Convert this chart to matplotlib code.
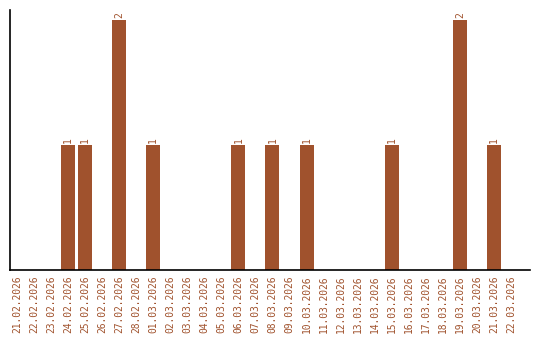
import matplotlib
matplotlib.use("Agg")
import matplotlib.pyplot as plt

dates = [
    "21.02.2026", "22.02.2026", "23.02.2026", "24.02.2026", "25.02.2026",
    "26.02.2026", "27.02.2026", "28.02.2026", "01.03.2026", "02.03.2026",
    "03.03.2026", "04.03.2026", "05.03.2026", "06.03.2026", "07.03.2026",
    "08.03.2026", "09.03.2026", "10.03.2026", "11.03.2026", "12.03.2026",
    "13.03.2026", "14.03.2026", "15.03.2026", "16.03.2026", "17.03.2026",
    "18.03.2026", "19.03.2026", "20.03.2026", "21.03.2026", "22.03.2026",
]
counts = [0, 0, 0, 1, 1, 0, 2, 0, 1, 0,
          0, 0, 0, 1, 0, 1, 0, 1, 0, 0,
          0, 0, 1, 0, 0, 0, 2, 0, 1, 0]

color = "#A0522D"

fig = plt.figure(figsize=(5.4, 3.4), dpi=100)
ax = fig.add_axes([10 / 540, 70 / 340, 520 / 540, 260 / 340])

xs = range(len(dates))
ax.bar(xs, counts, width=0.82, color=color)

# Beschriftung über den Balken
for x, v in zip(xs, counts):
    if v > 0:
        ax.text(x, v + 0.02, str(v), rotation=90, ha="center", va="bottom",
                color=color, fontsize=7, family="DejaVu Sans Mono")

ax.set_xlim(-0.41, 30.12)
ax.set_ylim(0, 2.08)
ax.set_xticks(list(xs))
ax.set_xticklabels(dates, rotation=90, color=color, fontsize=6.9,
                   family="DejaVu Sans Mono")
ax.tick_params(axis="x", length=0, pad=4)
ax.set_yticks([])
for side in ("top", "right"):
    ax.spines[side].set_visible(False)
ax.spines["left"].set_linewidth(1.2)
ax.spines["bottom"].set_linewidth(1.2)

fig.savefig("out.png", dpi=100)
